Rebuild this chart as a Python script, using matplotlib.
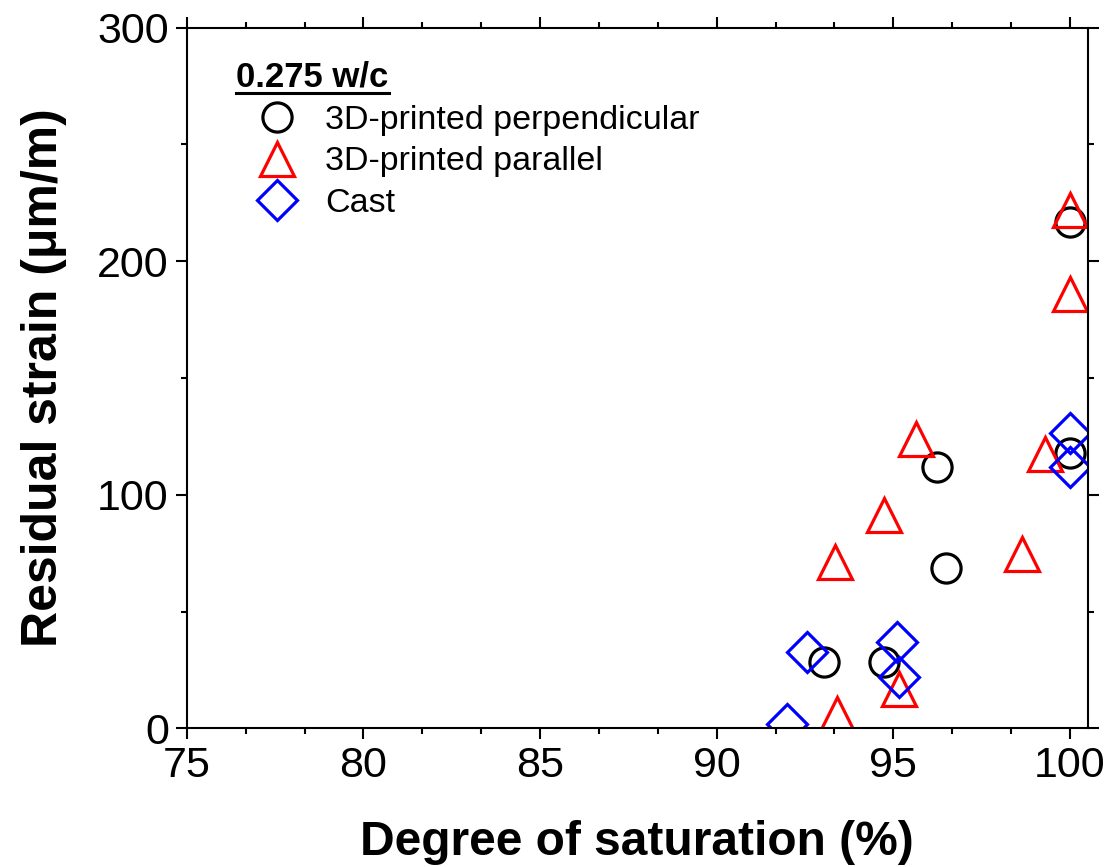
import matplotlib
matplotlib.use("Agg")
import matplotlib.pyplot as plt
from matplotlib.ticker import MultipleLocator
from matplotlib.lines import Line2D

plt.rcParams["font.family"] = ["Liberation Sans", "DejaVu Sans"]

# Data
perp_x = [100.0, 96.25, 96.5, 93.05, 94.75, 100.0]
perp_y = [217, 112, 68.5, 28.5, 28.5, 118]

par_x = [100.0, 100.0, 95.65, 94.75, 93.35, 98.65, 99.3, 93.4, 95.15]
par_y = [222, 186, 124, 91.5, 71, 74.5, 117.5, 6, 17]

cast_x = [100.0, 100.0, 92.55, 95.1, 95.15, 92.0]
cast_y = [126.5, 112, 32.5, 37, 22, 2]

fig = plt.figure(figsize=(11.12, 8.67), dpi=100)
ax = fig.add_axes([0.168, 0.160, 0.810, 0.808])

mew = 2.3
ax.plot(perp_x, perp_y, "o", ms=21, mfc="none", mec="black", mew=mew,
        label="3D-printed perpendicular")
ax.plot(par_x, par_y, "^", ms=24, mfc="none", mec="red", mew=mew,
        label="3D-printed parallel")
ax.plot(cast_x, cast_y, "D", ms=20.5, mfc="none", mec="blue", mew=mew,
        label="Cast")

ax.set_xlim(75, 100.5)
ax.set_ylim(0, 300)
ax.xaxis.set_major_locator(MultipleLocator(5))
ax.xaxis.set_minor_locator(MultipleLocator(5 / 3))
ax.yaxis.set_major_locator(MultipleLocator(100))
ax.yaxis.set_minor_locator(MultipleLocator(50))

for s in ax.spines.values():
    s.set_linewidth(1.5)
ax.tick_params(which="both", direction="out", top=True, right=True,
               width=1.5, labelsize=31, pad=5)
ax.tick_params(which="major", length=8)
ax.tick_params(which="minor", length=4)

ax.set_xlabel("Degree of saturation (%)", fontsize=34.5, fontweight="bold",
              labelpad=24)
ax.set_ylabel("Residual strain (μm/m)", fontsize=36, fontweight="bold",
              labelpad=22)

leg = ax.legend(loc="upper left", bbox_to_anchor=(0.055, 0.953),
                frameon=False, fontsize=24.5, title="0.275 w/c",
                title_fontproperties={"weight": "bold", "size": 25},
                alignment="left", handletextpad=0.2, labelspacing=0.32,
                borderaxespad=0, borderpad=0, handlelength=2.4)

# underline the legend title
fig.canvas.draw()
bb = leg.get_title().get_window_extent()
inv = fig.transFigure.inverted()
(x0, y0), (x1, _) = inv.transform([[bb.x0, bb.y0 + 1], [bb.x1, bb.y0]])
fig.add_artist(Line2D([x0, x1], [y0, y0], color="black", lw=2.2,
                      transform=fig.transFigure))

fig.savefig("out.png", dpi=100)
